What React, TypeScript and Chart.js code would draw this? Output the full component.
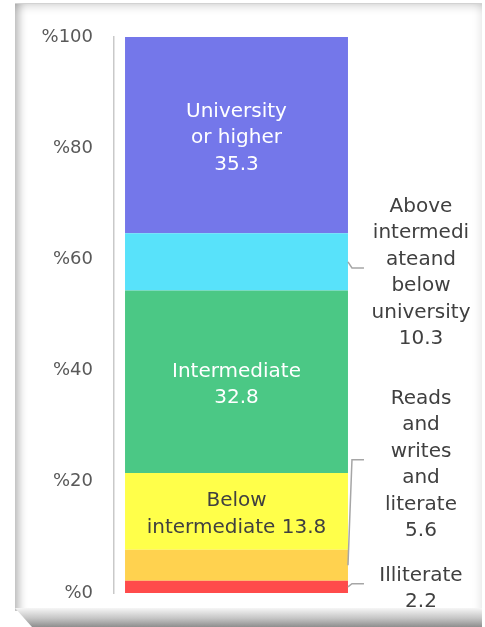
import React, { useEffect, useRef } from 'react';
import { Chart, registerables } from 'chart.js';

Chart.register(...registerables);

// Education levels, stacked from the bottom of the bar upwards
const levels = [
  'Illiterate',
  'Reads and writes and literate',
  'Below intermediate',
  'Intermediate',
  'Above intermediateand below university',
  'University or higher',
];
const shares = [2.2, 5.6, 13.8, 32.8, 10.3, 35.3];
const barColors = ['#FF4B4B', '#FFD24F', '#FFFF4A', '#4BC885', '#58E2FA', '#7477EA'];

// Label text as it wraps on the chart
const labelLines = [
  ['Illiterate'],
  ['Reads', 'and', 'writes', 'and', 'literate'],
  ['Below', 'intermediate'],
  ['Intermediate'],
  ['Above', 'intermedi', 'ateand', 'below', 'university'],
  ['University', 'or higher'],
];
const valueOnLastLine = [false, false, true, false, false, false];
const labelColors = ['#404040', '#404040', '#404040', '#FFFFFF', '#404040', '#FFFFFF'];
// Callout labels sit right of the bar at these axis values; null = inside the segment
const calloutAt: (number | null)[] = [1.3, 23.6, null, null, 58.1, null];

const yTicks = [0, 20, 40, 60, 80, 100];

const FONT = '"DejaVu Sans", "Noto Sans", sans-serif';

const segmentLabels = {
  id: 'segmentLabels',
  afterDatasetsDraw(chart: any) {
    const ctx = chart.ctx as CanvasRenderingContext2D;
    const area = chart.chartArea;
    const yScale = chart.scales.y;
    const lineH = 26.5;
    const textShift = 3;
    ctx.save();
    ctx.font = `20px ${FONT}`;
    ctx.textAlign = 'center';
    ctx.textBaseline = 'middle';
    chart.data.datasets.forEach((_ds: any, i: number) => {
      const bar = chart.getDatasetMeta(i).data[0];
      const { x, y, base, width } = bar.getProps(['x', 'y', 'base', 'width'], true);
      const value = shares[i].toFixed(1);
      const lines = [...labelLines[i]];
      if (valueOnLastLine[i]) lines[lines.length - 1] += ' ' + value;
      else lines.push(value);
      const mid = (y + base) / 2;
      const at = calloutAt[i];
      let cx = x;
      let cy = mid;
      if (at !== null) {
        cy = yScale.getPixelForValue(at);
        cx = area.right + 62;
        const right = x + width / 2;
        ctx.strokeStyle = '#A6A6A6';
        ctx.lineWidth = 1.5;
        ctx.beginPath();
        ctx.moveTo(right, mid);
        ctx.lineTo(right + 4, cy - 2);
        ctx.lineTo(right + 16, cy - 2);
        ctx.stroke();
      }
      ctx.fillStyle = labelColors[i];
      const top = cy + textShift - ((lines.length - 1) * lineH) / 2;
      lines.forEach((t, k) => ctx.fillText(t, cx, top + k * lineH));
    });
    ctx.restore();
  },
};

export default function App() {
  const canvasRef = useRef<HTMLCanvasElement | null>(null);

  useEffect(() => {
    const canvas = canvasRef.current;
    if (!canvas) return;
    const chart = new Chart(canvas, {
      type: 'bar',
      data: {
        labels: ['Education'],
        datasets: levels.map((name, i) => ({
          label: name,
          data: [shares[i]],
          backgroundColor: barColors[i],
          borderWidth: 0,
          barPercentage: 0.91,
          categoryPercentage: 1,
        })),
      },
      options: {
        responsive: false,
        animation: false,
        layout: { padding: { left: 0, top: 37, right: 126, bottom: 34 } },
        plugins: {
          legend: { display: false },
          tooltip: { enabled: false },
          title: { display: false },
        },
        scales: {
          x: { stacked: true, display: false },
          y: {
            stacked: true,
            min: 0,
            max: 100,
            afterFit(scale: any) {
              scale.width = 114;
            },
            afterBuildTicks(scale: any) {
              scale.ticks = yTicks.map((v) => ({ value: v }));
            },
            grid: { display: false, drawTicks: false },
            border: { display: true, color: '#C9C9C9', width: 1.5 },
            ticks: {
              padding: 21,
              color: '#595959',
              font: { family: FONT, size: 18 },
              callback: (v: any) => '%' + v,
            },
          },
        },
      },
      plugins: [segmentLabels],
    });
    return () => chart.destroy();
  }, []);

  return (
    <div style={{ position: 'fixed', left: 0, top: 0, width: 485, height: 627, background: '#fff', overflow: 'hidden' }}>
      <div
        style={{
          position: 'absolute',
          left: 15,
          top: 3,
          width: 467,
          height: 608,
          background: '#fff',
          borderTop: '1px solid #d2d2d2',
          boxSizing: 'border-box',
          boxShadow:
            'inset 10px 0 8px -6px rgba(0,0,0,0.28), inset 0 10px 9px -7px rgba(0,0,0,0.14), inset -8px 0 8px -6px rgba(0,0,0,0.10)',
        }}
      />
      <div
        style={{
          position: 'absolute',
          left: 15,
          top: 608,
          width: 467,
          height: 19,
          background: 'linear-gradient(#f6f6f6, #c4c4c4 55%, #8e8e8e)',
          clipPath: 'polygon(0 0, 100% 0, 100% 100%, 17px 100%)',
        }}
      />
      <canvas ref={canvasRef} width={485} height={627} style={{ position: 'absolute', left: 0, top: 0 }} />
    </div>
  );
}
